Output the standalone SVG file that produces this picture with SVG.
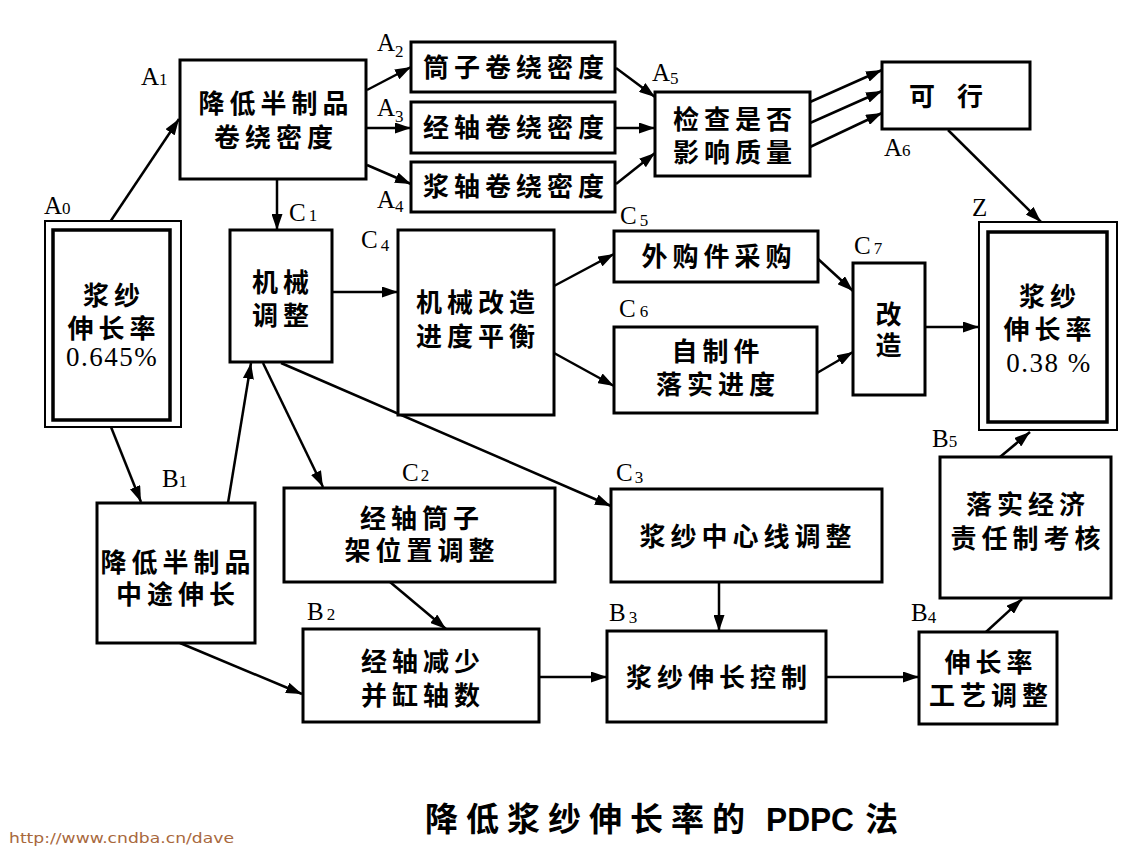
<svg xmlns="http://www.w3.org/2000/svg" width="1143" height="853" viewBox="0 0 1143 853">
<defs>
<marker id="ah" markerUnits="userSpaceOnUse" markerWidth="17" markerHeight="11" refX="16" refY="5.5" orient="auto">
<path d="M0,0 L16,5.5 L0,11 z" fill="#000"/>
</marker>
<style>
.box{fill:#fff;stroke:#000;stroke-width:3}
.outer{fill:#fff;stroke:#000;stroke-width:2}
.inner{fill:none;stroke:#000;stroke-width:3.5}
.t{font-family:"Noto Sans CJK SC","Noto Sans",sans-serif;font-size:26px;font-weight:bold;letter-spacing:5px;text-anchor:middle;fill:#000}
.n{font-family:"Liberation Serif",serif;font-size:27px;letter-spacing:1.5px;text-anchor:middle;fill:#000}
.lb{font-family:"Liberation Serif",serif;font-size:25px;fill:#000}
.sb{font-size:17px}
#conn line{stroke:#000;stroke-width:2.5;marker-end:url(#ah)}
</style>
</defs>
<rect width="1143" height="853" fill="#fff"/>
<g id="conn">
<line x1="110" y1="222" x2="179" y2="119"/>
<line x1="367" y1="90" x2="411" y2="67"/>
<line x1="367" y1="128" x2="411" y2="128"/>
<line x1="367" y1="165" x2="411" y2="184"/>
<line x1="277" y1="180" x2="277" y2="230"/>
<line x1="616" y1="68" x2="655" y2="97"/>
<line x1="616" y1="128" x2="655" y2="128"/>
<line x1="616" y1="184" x2="655" y2="153"/>
<line x1="810" y1="102" x2="882" y2="70"/>
<line x1="810" y1="123" x2="882" y2="91"/>
<line x1="810" y1="147" x2="882" y2="113"/>
<line x1="948" y1="130" x2="1041" y2="222"/>
<line x1="332" y1="292" x2="398" y2="292"/>
<line x1="554" y1="286" x2="614" y2="254"/>
<line x1="554" y1="353" x2="614" y2="386"/>
<line x1="817" y1="258" x2="853" y2="291"/>
<line x1="817" y1="373" x2="853" y2="352"/>
<line x1="925" y1="327" x2="979" y2="327"/>
<line x1="111" y1="427" x2="141" y2="502"/>
<line x1="228" y1="503" x2="251" y2="363"/>
<line x1="263" y1="363" x2="323" y2="487"/>
<line x1="281" y1="363" x2="611" y2="506"/>
<line x1="390" y1="582" x2="446" y2="629"/>
<line x1="180" y1="643" x2="302" y2="694"/>
<line x1="539" y1="677" x2="607" y2="677"/>
<line x1="719" y1="582" x2="719" y2="631"/>
<line x1="826" y1="677" x2="919" y2="677"/>
<line x1="986" y1="632" x2="1022" y2="599"/>
<line x1="1000" y1="457" x2="1030" y2="432"/>
</g>

<g id="A0">
<rect class="outer" x="45" y="221" width="136" height="206"/>
<rect class="inner" x="53" y="230" width="117" height="190"/>
<text class="t" x="114" y="305">浆纱</text>
<text class="t" x="114" y="338">伸长率</text>
<text class="n" x="112" y="366">0.645%</text>
<text class="lb" x="44" y="214">A<tspan class="sb">0</tspan></text>
</g>
<g id="A1">
<rect class="box" x="180" y="60" width="186" height="119"/>
<text class="t" x="276" y="113">降低半制品</text>
<text class="t" x="276" y="147">卷绕密度</text>
<text class="lb" x="141" y="85">A<tspan class="sb">1</tspan></text>
</g>
<g id="A2">
<rect class="box" x="411" y="42" width="204" height="50"/>
<text class="t" x="516" y="77">筒子卷绕密度</text>
<text class="lb" x="377" y="51">A<tspan class="sb" dy="6">2</tspan></text>
</g>
<g id="A3">
<rect class="box" x="411" y="102" width="204" height="51"/>
<text class="t" x="516" y="137">经轴卷绕密度</text>
<text class="lb" x="377" y="116">A<tspan class="sb" dy="6">3</tspan></text>
</g>
<g id="A4">
<rect class="box" x="411" y="162" width="204" height="50"/>
<text class="t" x="516" y="196">浆轴卷绕密度</text>
<text class="lb" x="377" y="208">A<tspan class="sb" dy="4">4</tspan></text>
</g>
<g id="A5">
<rect class="box" x="655" y="92" width="155" height="84"/>
<text class="t" x="735" y="129">检查是否</text>
<text class="t" x="735" y="162">影响质量</text>
<text class="lb" x="652" y="81">A<tspan class="sb" dy="3">5</tspan></text>
</g>
<g id="A6">
<rect class="box" x="882" y="62" width="148" height="67"/>
<text class="t" x="957" y="106" style="letter-spacing:22px">可行</text>
<text class="lb" x="884" y="156">A<tspan class="sb">6</tspan></text>
</g>
<g id="Z">
<rect class="outer" x="979" y="222" width="138" height="208"/>
<rect class="inner" x="988" y="232" width="119" height="190"/>
<text class="t" x="1050" y="306">浆纱</text>
<text class="t" x="1050" y="339">伸长率</text>
<text class="n" x="1049" y="372">0.38 %</text>
<text class="lb" x="972" y="216">Z</text>
</g>
<g id="C1">
<rect class="box" x="230" y="230" width="102" height="132"/>
<text class="t" x="283" y="292">机械</text>
<text class="t" x="283" y="325">调整</text>
<text class="lb" x="289" y="221">C<tspan class="sb" dx="3">1</tspan></text>
</g>
<g id="C4">
<rect class="box" x="398" y="230" width="156" height="185"/>
<text class="t" x="478" y="312">机械改造</text>
<text class="t" x="478" y="346">进度平衡</text>
<text class="lb" x="361" y="248">C<tspan class="sb" dx="3" dy="3">4</tspan></text>
</g>
<g id="C5">
<rect class="box" x="614" y="231" width="204" height="51"/>
<text class="t" x="719" y="266">外购件采购</text>
<text class="lb" x="620" y="224">C<tspan class="sb" dx="3" dy="2">5</tspan></text>
</g>
<g id="C6">
<rect class="box" x="614" y="327" width="203" height="86"/>
<text class="t" x="718" y="361">自制件</text>
<text class="t" x="718" y="394">落实进度</text>
<text class="lb" x="619" y="317">C<tspan class="sb" dx="4">6</tspan></text>
</g>
<g id="C7">
<rect class="box" x="853" y="263" width="72" height="132"/>
<text class="t" x="891" y="324">改</text>
<text class="t" x="891" y="355">造</text>
<text class="lb" x="854" y="254">C<tspan class="sb" dx="3">7</tspan></text>
</g>
<g id="B1">
<rect class="box" x="97" y="503" width="158" height="140"/>
<text class="t" x="178" y="572">降低半制品</text>
<text class="t" x="178" y="604">中途伸长</text>
<text class="lb" x="162" y="487">B<tspan class="sb">1</tspan></text>
</g>
<g id="C2">
<rect class="box" x="284" y="488" width="271" height="94"/>
<text class="t" x="422" y="528">经轴筒子</text>
<text class="t" x="422" y="560">架位置调整</text>
<text class="lb" x="402" y="481">C<tspan class="sb" dx="2">2</tspan></text>
</g>
<g id="B2">
<rect class="box" x="303" y="629" width="236" height="93"/>
<text class="t" x="423" y="671">经轴减少</text>
<text class="t" x="423" y="705">并缸轴数</text>
<text class="lb" x="307" y="620">B<tspan class="sb" dx="3">2</tspan></text>
</g>
<g id="C3">
<rect class="box" x="611" y="489" width="271" height="93"/>
<text class="t" x="748" y="546">浆纱中心线调整</text>
<text class="lb" x="616" y="481">C<tspan class="sb" dx="2" dy="2">3</tspan></text>
</g>
<g id="B3">
<rect class="box" x="607" y="631" width="219" height="91"/>
<text class="t" x="719" y="687">浆纱伸长控制</text>
<text class="lb" x="609" y="621">B<tspan class="sb" dx="3" dy="2">3</tspan></text>
</g>
<g id="B4">
<rect class="box" x="919" y="632" width="138" height="92"/>
<text class="t" x="991" y="672">伸长率</text>
<text class="t" x="991" y="705">工艺调整</text>
<text class="lb" x="911" y="621">B<tspan class="sb" dy="2">4</tspan></text>
</g>
<g id="B5">
<rect class="box" x="940" y="457" width="171" height="141"/>
<text class="t" x="1028" y="514">落实经济</text>
<text class="t" x="1028" y="548">责任制考核</text>
<text class="lb" x="932" y="447">B<tspan class="sb">5</tspan></text>
</g>
<g id="title">
<text font-family="Noto Sans CJK SC, Noto Sans, sans-serif" font-size="33" font-weight="bold" fill="#000" y="831"><tspan x="425" textLength="320" lengthAdjust="spacing">降低浆纱伸长率的</tspan><tspan x="766" font-family="Liberation Sans, sans-serif" textLength="88" lengthAdjust="spacingAndGlyphs">PDPC</tspan><tspan x="865">法</tspan></text>
</g>
<text x="9" y="843" font-family="DejaVu Sans, sans-serif" font-size="14" fill="#a8683c" textLength="225" lengthAdjust="spacingAndGlyphs">http://www.cndba.cn/dave</text>
</svg>
